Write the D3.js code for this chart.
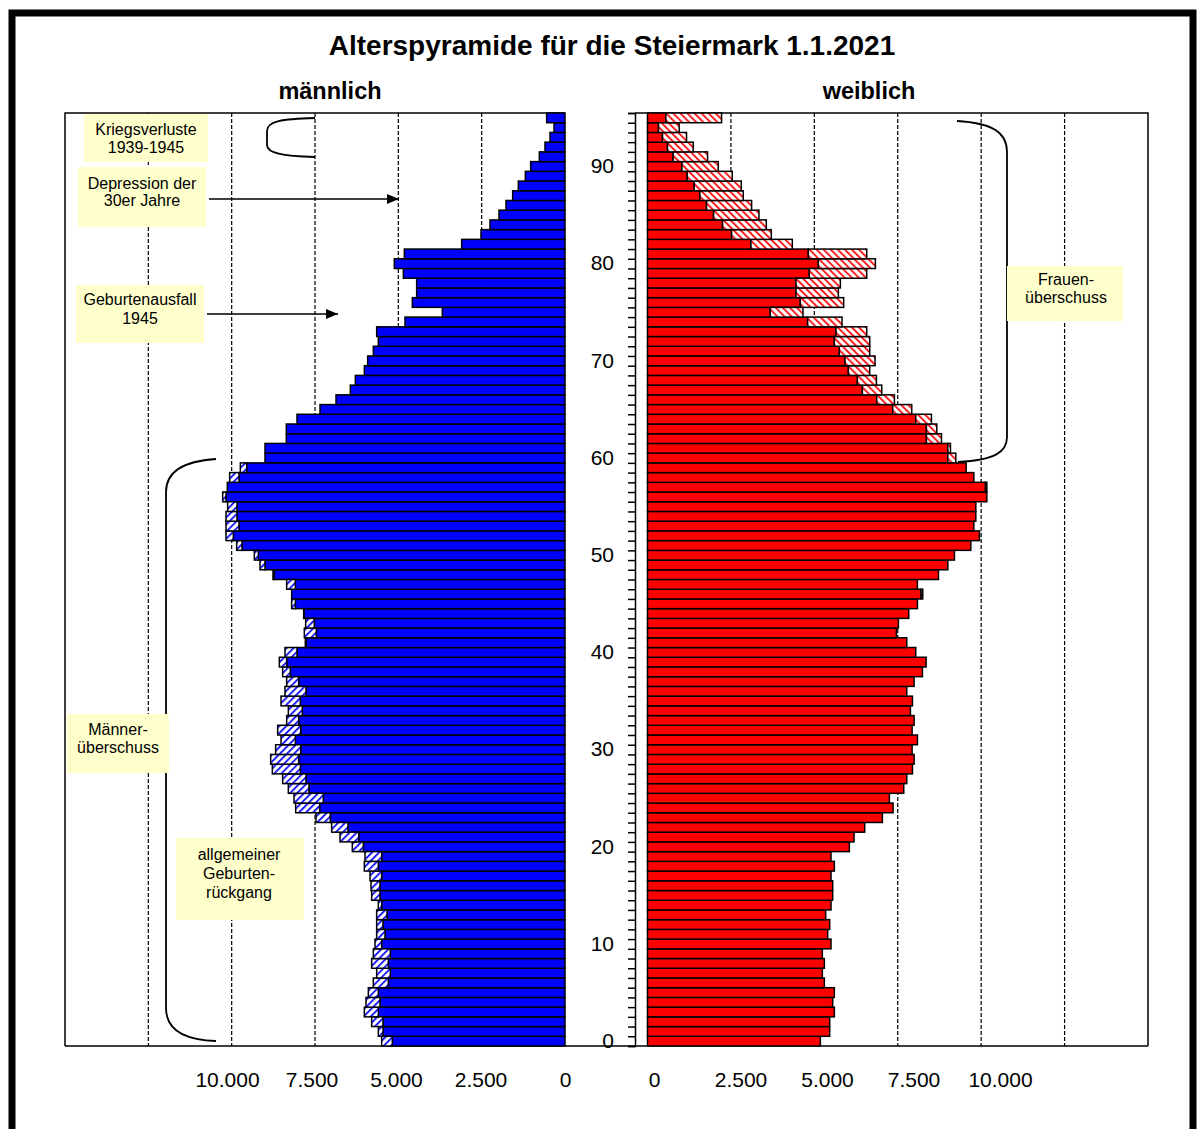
<!DOCTYPE html>
<html>
<head>
<meta charset="utf-8">
<script src="https://cdn.jsdelivr.net/npm/d3@7"></script>
<style>
  body { margin: 0; background: #fff; }
  svg { font-family: "Liberation Sans", Arial, sans-serif; }
</style>
</head>
<body>
<svg id="chart" width="1200" height="1129"></svg>
<script>
// Alter 0..95
const ages = d3.range(0, 96);

// Einwohner je Altersjahr
const male = [
  5500, 5600, 5800, 6020, 5970, 5900, 5750, 5650, 5800, 5750,
  5700, 5650, 5650, 5650, 5600, 5800, 5820, 5850, 6020, 6000,
  6380, 6750, 7000, 7470, 8080, 8130, 8300, 8470, 8780, 8830,
  8680, 8520, 8620, 8350, 8300, 8520, 8400, 8350, 8470, 8570,
  8400, 7790, 7820, 7780, 7840, 8200, 8200, 8350, 8760, 9150,
  9320, 9850, 10170, 10170, 10170, 10120, 10270, 10130, 10060, 9740,
  9000, 9000, 8360, 8360, 8040, 7350, 6870, 6440, 6290, 6020,
  5920, 5750, 5600, 5650, 4800, 3680, 4580, 4450, 4450, 4850,
  5120, 4820, 3100, 2520, 2250, 1980, 1770, 1570, 1400, 1190,
  1030, 770, 600, 450, 330, 550
];
const female = [
  5180, 5460, 5460, 5600, 5550, 5600, 5300, 5240, 5300, 5240,
  5500, 5400, 5460, 5340, 5500, 5550, 5550, 5500, 5600, 5500,
  6050, 6190, 6510, 7040, 7360, 7250, 7680, 7770, 7940, 7990,
  7930, 8090, 7930, 7990, 7880, 7940, 7770, 7990, 8240, 8350,
  8040, 7770, 7460, 7520, 7830, 8090, 8250, 8090, 8720, 9000,
  9200, 9690, 9950, 9780, 9840, 9840, 10170, 10170, 9780, 9550,
  9240, 9080, 8810, 8670, 8510, 7920, 7400, 7020, 6860, 6660,
  6820, 6660, 6660, 6570, 5830, 4660, 5880, 5720, 5780, 6570,
  6830, 6570, 4340, 3710, 3560, 3340, 3120, 2870, 2810, 2540,
  2120, 1800, 1370, 1170, 950, 2220
];

const valueTicks = [0, 2500, 5000, 7500, 10000];
const valueTickLabels = ["0", "2.500", "5.000", "7.500", "10.000"];
const gridValues = [2500, 5000, 7500, 10000, 12500];
const ageLabels = [0, 10, 20, 30, 40, 50, 60, 70, 80, 90];

const svg = d3.select("#chart");

// outer frame
svg.append("rect")
  .attr("x", 12).attr("y", 13).attr("width", 1181).attr("height", 1200)
  .attr("fill", "#fff").attr("stroke", "#000").attr("stroke-width", 7);

// scales
const plotTop = 113, plotBottom = 1046;
const y = d3.scaleBand().domain(ages).range([plotBottom, plotTop]).padding(0);
const yEdge = d3.scaleLinear().domain([0, 96]).range([plotBottom, plotTop]);
const xL = d3.scaleLinear().domain([0, 15000]).range([565, 65]);
const xR = d3.scaleLinear().domain([0, 15000]).range([647.5, 1148]);
// labels under the panels sit a little off the grid, as in the original
const xLabL = d3.scaleLinear().domain([0, 10000]).range([565, 227]);
const xLabR = d3.scaleLinear().domain([0, 10000]).range([654, 1000]);

// hatch patterns
const defs = svg.append("defs");
function hatch(id, color, angle) {
  const p = defs.append("pattern").attr("id", id)
    .attr("patternUnits", "userSpaceOnUse")
    .attr("width", 5).attr("height", 5)
    .attr("patternTransform", `rotate(${angle})`);
  p.append("rect").attr("width", 5).attr("height", 5).attr("fill", "#fff");
  p.append("rect").attr("width", 1.7).attr("height", 5).attr("fill", color);
}
hatch("hatchM", "#0000ff", 45);
hatch("hatchF", "#ff0000", -45);

// gridlines
const grid = svg.append("g").attr("stroke", "#000").attr("stroke-width", 1.2)
  .attr("stroke-dasharray", "4,2");
grid.selectAll(".gl").data(gridValues).join("line")
  .attr("x1", d => xL(d)).attr("x2", d => xL(d)).attr("y1", plotTop).attr("y2", plotBottom);
grid.selectAll(".gr").data(gridValues).join("line")
  .attr("x1", d => xR(d)).attr("x2", d => xR(d)).attr("y1", plotTop).attr("y2", plotBottom);

// panel frames
const frame = svg.append("g").attr("fill", "none").attr("stroke", "#000").attr("stroke-width", 1.5);
frame.append("path").attr("d", `M${xL(0)},${plotTop} H${xL(15000)} V${plotBottom}`);
frame.append("path").attr("d", `M635,${plotTop} H${xR(15000)} V${plotBottom}`);
frame.append("line").attr("x1", xL(15000)).attr("x2", xR(15000))
  .attr("y1", plotBottom).attr("y2", plotBottom);

const rows = ages.map(a => ({
  age: a, m: male[a], f: female[a], lo: Math.min(male[a], female[a])
}));

// bars
const bars = svg.append("g").attr("stroke", "#000").attr("stroke-width", 1.5);
bars.selectAll(".ms").data(rows).join("rect")
  .attr("x", d => xL(d.lo)).attr("width", d => xL(0) - xL(d.lo))
  .attr("y", d => y(d.age)).attr("height", y.bandwidth())
  .attr("fill", "#0000ff");
bars.selectAll(".mh").data(rows.filter(d => d.m > d.lo)).join("rect")
  .attr("x", d => xL(d.m)).attr("width", d => xL(d.lo) - xL(d.m))
  .attr("y", d => y(d.age)).attr("height", y.bandwidth())
  .attr("fill", "url(#hatchM)");
bars.selectAll(".fs").data(rows).join("rect")
  .attr("x", xR(0)).attr("width", d => xR(d.lo) - xR(0))
  .attr("y", d => y(d.age)).attr("height", y.bandwidth())
  .attr("fill", "#ff0000");
bars.selectAll(".fh").data(rows.filter(d => d.f > d.lo)).join("rect")
  .attr("x", d => xR(d.lo)).attr("width", d => xR(d.f) - xR(d.lo))
  .attr("y", d => y(d.age)).attr("height", y.bandwidth())
  .attr("fill", "url(#hatchF)");

// age axis in the middle
const tickAxis = svg.append("g").attr("transform", "translate(635,0)")
  .call(d3.axisLeft(yEdge).tickValues(d3.range(97)).tickSize(7).tickFormat(""));
tickAxis.selectAll("path, line").attr("stroke", "#000").attr("stroke-width", 1.5);

const ageAxis = svg.append("g").attr("transform", "translate(614,0)")
  .call(d3.axisLeft(y).tickValues(ageLabels).tickSize(0).tickPadding(0));
ageAxis.select(".domain").remove();
ageAxis.selectAll("text").attr("font-size", 21).attr("fill", "#000")
  .attr("font-family", "Liberation Sans, Arial, sans-serif");

// value labels below
function valueAxis(scale) {
  const g = svg.append("g").attr("transform", "translate(0,1069)")
    .call(d3.axisBottom(scale).tickValues(valueTicks).tickSize(0)
      .tickFormat((d, i) => valueTickLabels[i]));
  g.select(".domain").remove();
  g.selectAll("text").attr("font-size", 21).attr("fill", "#000")
    .attr("font-family", "Liberation Sans, Arial, sans-serif");
}
valueAxis(xLabL);
valueAxis(xLabR);

// titles
svg.append("text").attr("x", 612).attr("y", 55).attr("text-anchor", "middle")
  .attr("font-size", 28).attr("font-weight", "bold")
  .text("Alterspyramide für die Steiermark 1.1.2021");
svg.append("text").attr("x", 330).attr("y", 99).attr("text-anchor", "middle")
  .attr("font-size", 23.5).attr("font-weight", "bold").text("männlich");
svg.append("text").attr("x", 869).attr("y", 99).attr("text-anchor", "middle")
  .attr("font-size", 23.5).attr("font-weight", "bold").text("weiblich");

// brackets
const brackets = svg.append("g").attr("fill", "none").attr("stroke", "#000").attr("stroke-width", 1.8);
brackets.append("path").attr("d", "M315,118 C282,119 267,121 267,131 L267,145 C267,153 282,156 315,157");
brackets.append("path").attr("d", "M216,459 C184,461 166,472 166,492 L166,1008 C166,1030 184,1040 216,1041");
brackets.append("path").attr("d", "M957,121 C992,123 1007,132 1007,152 L1007,437 C1007,452 995,460 958,462");

// arrows
defs.append("marker").attr("id", "arrow").attr("viewBox", "0 0 12 10")
  .attr("refX", 12).attr("refY", 5).attr("markerWidth", 12).attr("markerHeight", 10)
  .attr("markerUnits", "userSpaceOnUse").attr("orient", "auto")
  .append("path").attr("d", "M0,0 L12,5 L0,10 Z").attr("fill", "#000");
const arrows = svg.append("g").attr("stroke", "#000").attr("stroke-width", 1.5);
arrows.append("line").attr("x1", 209).attr("x2", 399).attr("y1", 199).attr("y2", 199)
  .attr("marker-end", "url(#arrow)");
arrows.append("line").attr("x1", 207).attr("x2", 338).attr("y1", 314).attr("y2", 314)
  .attr("marker-end", "url(#arrow)");

// annotation boxes
const notes = [
  { x: 84, y: 114, w: 124, h: 48, cx: 146, lines: ["Kriegsverluste", "1939-1945"], ly: [129, 147] },
  { x: 78, y: 167, w: 128, h: 60, cx: 142, lines: ["Depression der", "30er Jahre"], ly: [183, 200] },
  { x: 76, y: 285, w: 128, h: 58, cx: 140, lines: ["Geburtenausfall", "1945"], ly: [299, 318] },
  { x: 67, y: 714, w: 102, h: 59, cx: 118, lines: ["Männer-", "überschuss"], ly: [729, 747] },
  { x: 176, y: 838, w: 128, h: 82, cx: 239, lines: ["allgemeiner", "Geburten-", "rückgang"], ly: [854, 873, 892] },
  { x: 1007, y: 266, w: 116, h: 55, cx: 1066, lines: ["Frauen-", "überschuss"], ly: [279, 297] }
];
const noteG = svg.append("g");
notes.forEach(n => {
  noteG.append("rect").attr("x", n.x).attr("y", n.y).attr("width", n.w).attr("height", n.h)
    .attr("fill", "#ffffcc");
  n.lines.forEach((t, i) => {
    noteG.append("text").attr("x", n.cx).attr("y", n.ly[i]).attr("dy", "0.35em")
      .attr("text-anchor", "middle").attr("font-size", 16).attr("fill", "#000").text(t);
  });
});
</script>
</body>
</html>
